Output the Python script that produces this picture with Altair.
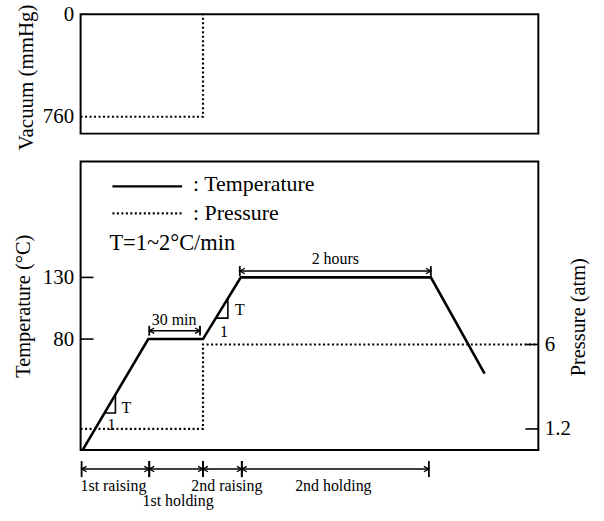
import altair as alt
import pandas as pd

FONT = "Liberation Serif"

# ---- data (schematic time units 0..460) ----
temp_time = [2, 68, 123, 161, 352, 406]
temp_vals = [-10, 80, 80, 130, 130, 52]

pres_time = [0, 123, 123, 460]
pres_vals = [1.2, 1.2, 6, 6]

vac_time = [0, 123, 123]
vac_vals = [760, 760, 0]

temp_ticks = [80, 130]
pres_ticks = [1.2, 6]
vac_ticks = [0, 760]

phase_names = ["1st raising", "1st holding", "2nd raising", "2nd holding"]
phase_label_x = [33, 98, 147, 254]
phase_label_y = [-39, -51, -39, -39]

span_start = [1, 69, 123, 162, 69, 160]
span_end = [69, 123, 162, 350, 120, 352]
span_level = [-25.4, -25.4, -25.4, -25.4, 86.8, 135.2]
span_half = [6.5, 6.5, 6.5, 6.5, 4, 4]

span_text = ["30 min", "2 hours"]
span_text_x = [94, 256]
span_text_y = [95.7, 144.9]

tri_id = [1, 1, 1, 2, 2, 2]
tri_time = [24, 35, 35, 136, 148, 148]
tri_temp = [20, 20, 35, 97, 97, 113]

slope_text = ["T", "1", "T", "1"]
slope_x = [46, 31, 160, 144]
slope_y = [23.8, 10.1, 103.7, 86.0]

legend_text = [": Temperature", ": Pressure", "T=1~2°C/min"]
legend_x = [113, 113, 29]
legend_y = [205.4, 182.5, 157.8]
legend_size = [22, 22, 22.5]
legend_line_x = [32, 102]
legend_solid_y = 203.8
legend_dot_y = 182.0

# ---- scales / axes ----
xscale = alt.Scale(domain=[0, 460], nice=False, zero=False)
X = alt.X("t:Q", scale=xscale, axis=None)
X2 = alt.X2("t2")

tscale = alt.Scale(domain=[-10, 224], nice=False, zero=False)
taxis = alt.Axis(values=temp_ticks, ticks=False, domain=False, grid=False,
                 labelFontSize=21, labelPadding=7, labelColor="black",
                 title="Temperature (°C)", titleFontSize=20.5, titleFontWeight="normal",
                 titleColor="black", titleAngle=270, titleX=-57, titleY=145,
                 titleAlign="center", titleBaseline="middle", orient="left")
TY = alt.Y("temp:Q", scale=tscale, axis=taxis)

pscale = alt.Scale(domain=[0, 16.4], nice=False, zero=False)
paxis = alt.Axis(values=pres_ticks, labelExpr="'' + datum.value", ticks=False,
                 domain=False, grid=False,
                 labelFontSize=21, labelPadding=6, labelColor="black",
                 title="Pressure (atm)", titleFontSize=20.5, titleFontWeight="normal",
                 titleColor="black", titleAngle=270, titleX=40, titleY=156,
                 titleAlign="center", titleBaseline="middle", orient="right")
PY = alt.Y("p:Q", scale=pscale, axis=paxis)

vscale = alt.Scale(domain=[0, 885], reverse=True, nice=False, zero=False)
vaxis = alt.Axis(values=vac_ticks, format="d", ticks=False, domain=False, grid=False,
                 labelFontSize=21, labelPadding=7, labelColor="black",
                 title="Vacuum (mmHg)", titleFontSize=21, titleFontWeight="normal",
                 titleColor="black", titleAngle=270, titleX=-54, titleY=63,
                 titleAlign="center", titleBaseline="middle", orient="left")

DOT = [2, 2.5]

# ---- top panel ----
vac_df = pd.DataFrame({"t": vac_time, "v": vac_vals, "i": list(range(len(vac_time)))})
top = alt.Chart(vac_df).mark_line(color="black", strokeWidth=2.2, strokeDash=DOT).encode(
    x=X, y=alt.Y("v:Q", scale=vscale, axis=vaxis), order="i:Q"
).properties(width=460, height=120)

# ---- bottom panel ----
temp_df = pd.DataFrame({"t": temp_time, "temp": temp_vals})
temp_line = alt.Chart(temp_df).mark_line(color="black", strokeWidth=2.6).encode(x=X, y=TY)

tri_df = pd.DataFrame({"id": tri_id, "t": tri_time, "temp": tri_temp})
tri = alt.Chart(tri_df).mark_line(color="black", strokeWidth=1.6).encode(
    x=X, y=TY, detail="id:N", order="t:Q")

slope_df = pd.DataFrame({"t": slope_x, "temp": slope_y, "label": slope_text})
slope_txt = alt.Chart(slope_df).mark_text(font=FONT, fontSize=16, color="black",
                                          baseline="middle").encode(x=X, y=TY, text="label:N")

span_df = pd.DataFrame({"t": span_start, "t2": span_end, "temp": span_level,
                        "lo": [l - h for l, h in zip(span_level, span_half)],
                        "hi": [l + h for l, h in zip(span_level, span_half)]})
span_rule = alt.Chart(span_df).mark_rule(color="black", strokeWidth=1.6, clip=False).encode(
    x=X, x2=X2, y=TY)
bar_start = alt.Chart(span_df).mark_rule(color="black", strokeWidth=1.8, clip=False).encode(
    x=X, y=alt.Y("lo:Q", scale=tscale, axis=taxis), y2=alt.Y2("hi"))
bar_end = alt.Chart(span_df).mark_rule(color="black", strokeWidth=1.8, clip=False).encode(
    x=alt.X("t2:Q", scale=xscale, axis=None), y=alt.Y("lo:Q", scale=tscale, axis=taxis),
    y2=alt.Y2("hi"))
head_left = alt.Chart(span_df).mark_point(shape="M1,-0.55L0,0L1,0.55", size=100,
                                          filled=False, color="black", strokeWidth=1.3,
                                          opacity=1, clip=False).encode(x=X, y=TY)
head_right = alt.Chart(span_df).mark_point(shape="M-1,-0.55L0,0L-1,0.55", size=100,
                                           filled=False, color="black", strokeWidth=1.3,
                                           opacity=1, clip=False).encode(
    x=alt.X("t2:Q", scale=xscale, axis=None), y=TY)

spantxt_df = pd.DataFrame({"t": span_text_x, "temp": span_text_y, "label": span_text})
span_txt = alt.Chart(spantxt_df).mark_text(font=FONT, fontSize=16, color="black",
                                           baseline="middle").encode(x=X, y=TY, text="label:N")

phase_df = pd.DataFrame({"t": phase_label_x, "temp": phase_label_y, "label": phase_names})
phase_txt = alt.Chart(phase_df).mark_text(font=FONT, fontSize=16, color="black",
                                          baseline="middle", clip=False).encode(
    x=X, y=TY, text="label:N")

leg_solid_df = pd.DataFrame({"t": [legend_line_x[0]], "t2": [legend_line_x[1]],
                             "temp": [legend_solid_y]})
leg_solid = alt.Chart(leg_solid_df).mark_rule(color="black", strokeWidth=2.4).encode(
    x=X, x2=X2, y=TY)
leg_dot_df = pd.DataFrame({"t": [legend_line_x[0]], "t2": [legend_line_x[1]],
                           "temp": [legend_dot_y]})
leg_dot = alt.Chart(leg_dot_df).mark_rule(color="black", strokeWidth=2.2, strokeDash=DOT).encode(
    x=X, x2=X2, y=TY)
leg_txt_df = pd.DataFrame({"t": legend_x, "temp": legend_y, "label": legend_text,
                           "fs": legend_size})
leg_txt = alt.Chart(leg_txt_df).mark_text(font=FONT, color="black",
                                          align="left", baseline="middle").encode(
    x=X, y=TY, text="label:N", size=alt.Size("fs:Q", scale=None, legend=None))

lt_df = pd.DataFrame({"t": [0] * len(temp_ticks), "t2": [13] * len(temp_ticks),
                      "temp": temp_ticks})
left_ticks = alt.Chart(lt_df).mark_rule(color="black", strokeWidth=1.6).encode(
    x=X, x2=X2, y=TY)

inner = alt.layer(temp_line, tri, slope_txt, span_rule, bar_start, bar_end, head_left,
                  head_right, span_txt, phase_txt, leg_solid, leg_dot, leg_txt, left_ticks)

pres_df = pd.DataFrame({"t": pres_time, "p": pres_vals, "i": list(range(len(pres_time)))})
pres_line = alt.Chart(pres_df).mark_line(color="black", strokeWidth=2.2, strokeDash=DOT).encode(
    x=X, y=PY, order="i:Q")
rt_df = pd.DataFrame({"t": [447] * len(pres_ticks), "t2": [460] * len(pres_ticks),
                      "p": pres_ticks})
right_ticks = alt.Chart(rt_df).mark_rule(color="black", strokeWidth=1.6).encode(
    x=X, x2=X2, y=PY)
outer_p = alt.layer(pres_line, right_ticks)

bottom = alt.layer(inner, outer_p).resolve_scale(y="independent").properties(
    width=460, height=290)

chart = alt.vconcat(top, bottom, spacing=28, bounds="flush").properties(
    padding={"left": 13, "top": 1, "right": 14, "bottom": 9},
    background="white",
).configure_view(stroke="black", strokeWidth=2).configure_axis(
    labelFont=FONT, titleFont=FONT
)

chart.save("out.html", embed_options={"renderer": "svg", "actions": False})
